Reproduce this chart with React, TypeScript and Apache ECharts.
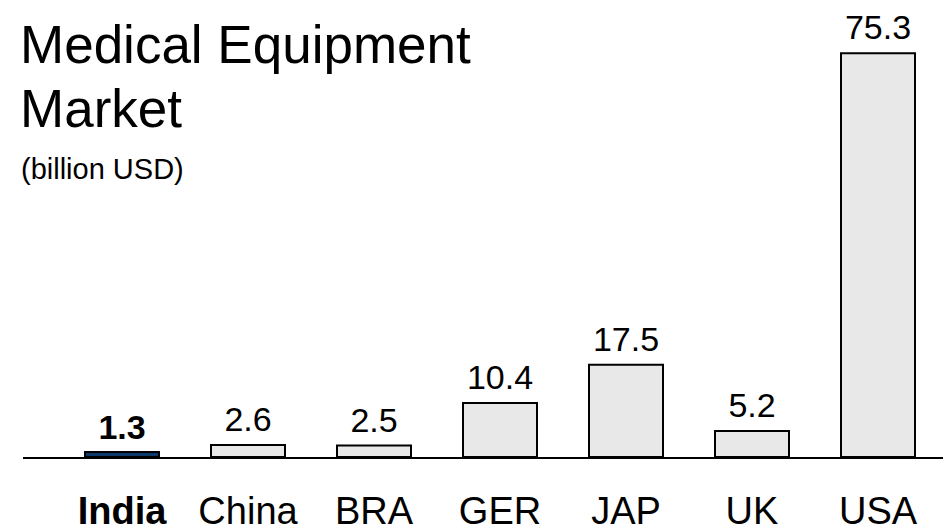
import React, { useEffect, useRef } from "react";
import * as echarts from "echarts";

// Market size per country, billion USD
const countries: string[] = ["India", "China", "BRA", "GER", "JAP", "UK", "USA"];
const marketSize: number[] = [1.3, 2.6, 2.5, 10.4, 17.5, 5.2, 75.3];
const highlighted = "India";

const FONT = '"Liberation Sans", Arial, Helvetica, sans-serif';
const NAVY = "#0d3a6b";
const GREY = "#e8e8e8";

export default function App() {
  const ref = useRef<HTMLDivElement>(null);

  useEffect(() => {
    document.body.style.margin = "0";
    if (!ref.current) return;
    const chart = echarts.init(ref.current, undefined, { renderer: "svg" });

    const data = marketSize.map((v, i) => {
      const isHi = countries[i] === highlighted;
      return {
        value: v,
        itemStyle: { color: isHi ? NAVY : GREY },
        label: isHi ? { fontWeight: "bold" as const, distance: 7 } : undefined,
      };
    });

    chart.setOption({
      animation: false,
      backgroundColor: "#ffffff",
      textStyle: { fontFamily: FONT },
      title: [
        {
          text: "Medical Equipment\nMarket",
          left: 20,
          top: 12,
          padding: 0,
          textStyle: {
            fontFamily: FONT,
            fontSize: 53,
            fontWeight: "normal",
            lineHeight: 64,
            color: "#000",
          },
        },
        {
          text: "(billion USD)",
          left: 21,
          top: 154,
          padding: 0,
          textStyle: {
            fontFamily: FONT,
            fontSize: 29,
            fontWeight: "normal",
            color: "#000",
          },
        },
      ],
      grid: {
        left: 59,
        right: 2,
        top: 0,
        bottom: 70,
        containLabel: false,
        outerBoundsMode: "none",
      },
      xAxis: {
        type: "category",
        data: countries,
        axisLine: { show: false },
        axisTick: { show: false },
        axisLabel: {
          interval: 0,
          margin: 39,
          fontFamily: FONT,
          fontSize: 38,
          lineHeight: 28,
          color: "#000",
          formatter: (v: string) => (v === highlighted ? `{b|${v}}` : v),
          rich: {
            b: {
              fontFamily: FONT,
              fontSize: 38,
              lineHeight: 28,
              fontWeight: "bold",
              color: "#000",
            },
          },
        },
      },
      yAxis: {
        type: "value",
        min: 0,
        max: 85,
        show: false,
        splitLine: { show: false },
      },
      series: [
        {
          type: "bar",
          data,
          barWidth: 76,
          itemStyle: { borderColor: "#000", borderWidth: 2 },
          label: {
            show: true,
            position: "top",
            distance: 8,
            fontFamily: FONT,
            fontSize: 34,
            color: "#000",
          },
        },
      ],
      graphic: [
        {
          type: "line",
          z: 100,
          shape: { x1: 23, y1: 458, x2: 943, y2: 458 },
          style: { stroke: "#000", lineWidth: 2 },
        },
      ],
    });

    return () => chart.dispose();
  }, []);

  return <div ref={ref} style={{ width: 943, height: 528 }} />;
}
